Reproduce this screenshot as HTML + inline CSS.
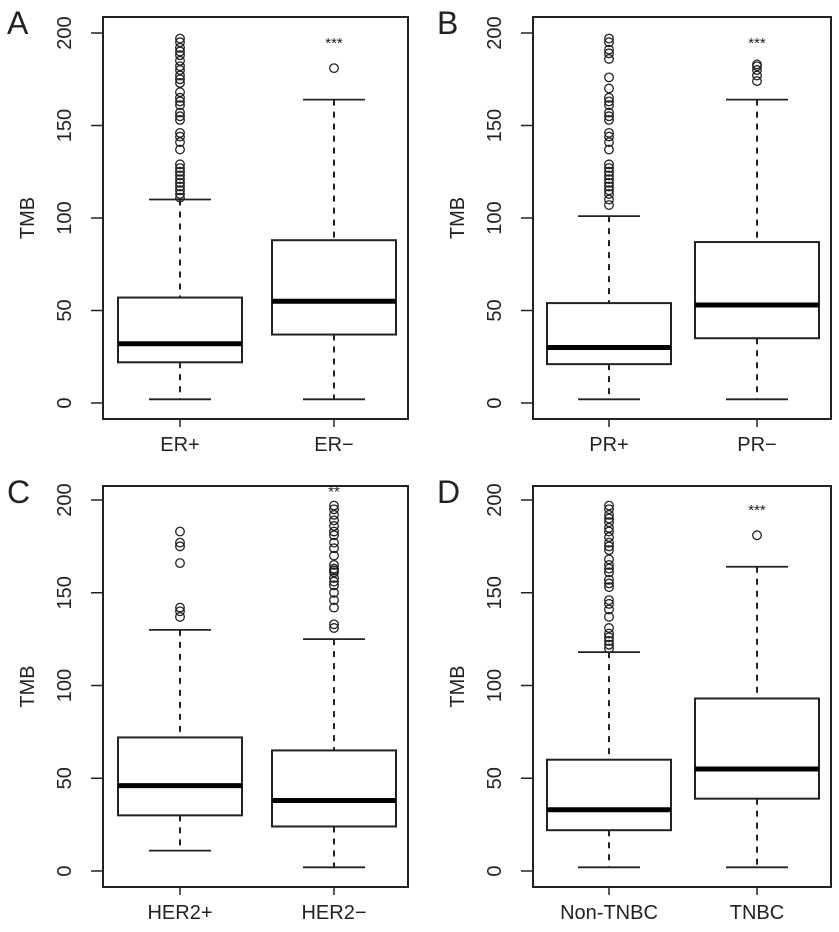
<!DOCTYPE html>
<html><head><meta charset="utf-8"><style>
html,body{margin:0;padding:0;background:#fff}
svg{display:block}
text{font-family:"Liberation Sans",Arial,sans-serif;fill:#222}
</style></head><body>
<svg id="chart" width="839" height="932" viewBox="0 0 839 932" xmlns="http://www.w3.org/2000/svg"></svg>
<script>
const panelLetters=["A","B","C","D"];
const groupLabels=[["ER+","ER\u2212"],["PR+","PR\u2212"],["HER2+","HER2\u2212"],["Non-TNBC","TNBC"]];
const lowWhisker=[[2,2],[2,2],[11,2],[2,2]];
const q1Values=[[22,37],[21,35],[30,24],[22,39]];
const medianValues=[[32,55],[30,53],[46,38],[33,55]];
const q3Values=[[57,88],[54,87],[72,65],[60,93]];
const highWhisker=[[110,164],[101,164],[130,125],[118,164]];
const outlierValues=[
 [[111,113,115,117,119,121,123,125,127,129,137,141,144,146,153,155,157,161,163,165,168,173,175,177,180,182,185,188,190,192,195,197],[181]],
 [[107,110,113,115,117,119,121,123,125,127,129,137,141,144,146,153,155,157,161,163,165,170,176,186,189,191,195,197],[174,177,180,182,183]],
 [[137,140,142,166,175,177,183],[131,133,142,146,150,154,156,158,161,162,163,165,170,174,177,181,183,186,189,192,195,197]],
 [[120,122,124,126,128,131,137,141,144,146,153,155,157,161,163,165,168,173,175,177,180,183,185,188,190,192,195,197],[181]]
];
const significance=[["","***"],["","***"],["","**"],["","***"]];
const significanceLevel=[[0,192],[0,192],[0,202],[0,192]];
const yTicks=[0,50,100,150,200];
const yTickLabels=["0","50","100","150","200"];

const svg=document.getElementById('chart');
const NS="http://www.w3.org/2000/svg";
function mk(tag,attrs,parent){const e=document.createElementNS(NS,tag);for(const k in attrs)e.setAttribute(k,attrs[k]);(parent||svg).appendChild(e);return e;}
const panels=[
 {fx0:103,fx1:408,fy0:17,fy1:419,y200:33,y0:403,cx:[180,334]},
 {fx0:533,fx1:831,fy0:17,fy1:419,y200:33,y0:403,cx:[609,757]},
 {fx0:103,fx1:408,fy0:486,fy1:887,y200:500,y0:871,cx:[180,334]},
 {fx0:533,fx1:831,fy0:486,fy1:887,y200:500,y0:871,cx:[609,757]}
];
panels.forEach((p,i)=>{
 const g=mk('g',{});
 
 
 const Y=v=>p.y0+(p.y200-p.y0)*v/200;
 const frame=mk('rect',{x:p.fx0,y:p.fy0,width:p.fx1-p.fx0,height:p.fy1-p.fy0,fill:'none',stroke:'#222','stroke-width':2},g);
 
 
 const lt=mk('text',{x:p.fx0-96,y:p.fy0+17,'font-size':32},g);
 lt.textContent=panelLetters[i];
 
 
 const yt=mk('text',{transform:`translate(${p.fx0-69},${(p.fy0+p.fy1)/2}) rotate(-90)`,'text-anchor':'middle','font-size':20},g);
 yt.textContent='TMB';
 
 
 yTicks.forEach((t,k)=>{
  const y=Y(t);
  const tl=mk('line',{x1:p.fx0-12,x2:p.fx0,y1:y,y2:y,stroke:'#222','stroke-width':1.5},g);
  
  
  const tx=mk('text',{transform:`translate(${p.fx0-32},${y}) rotate(-90)`,'text-anchor':'middle','font-size':20},g);
  tx.textContent=yTickLabels[k];
  
  
 });
 [0,1].forEach(j=>{
  const cx=p.cx[j];
  const bg=mk('g',{},g);
  
  
  mk('line',{x1:cx,x2:cx,y1:Y(highWhisker[i][j]),y2:Y(q3Values[i][j]),stroke:'#222','stroke-width':2,'stroke-dasharray':'6 6'},bg);
  mk('line',{x1:cx,x2:cx,y1:Y(q1Values[i][j]),y2:Y(lowWhisker[i][j]),stroke:'#222','stroke-width':2,'stroke-dasharray':'6 6'},bg);
  mk('line',{x1:cx-31,x2:cx+31,y1:Y(highWhisker[i][j]),y2:Y(highWhisker[i][j]),stroke:'#222','stroke-width':1.8},bg);
  mk('line',{x1:cx-31,x2:cx+31,y1:Y(lowWhisker[i][j]),y2:Y(lowWhisker[i][j]),stroke:'#222','stroke-width':1.8},bg);
  mk('rect',{x:cx-62,y:Y(q3Values[i][j]),width:124,height:Y(q1Values[i][j])-Y(q3Values[i][j]),fill:'#fff',stroke:'#222','stroke-width':2},bg);
  mk('line',{x1:cx-62,x2:cx+62,y1:Y(medianValues[i][j]),y2:Y(medianValues[i][j]),stroke:'#000','stroke-width':5},bg);
  outlierValues[i][j].forEach(v=>{
   const c=mk('circle',{cx:cx,cy:Y(v),r:4.3,fill:'none',stroke:'#222','stroke-width':1.3},bg);
   
   
  });
  if(significance[i][j]){
   const s=mk('text',{x:cx,y:Y(significanceLevel[i][j]),'text-anchor':'middle','font-size':15},bg);
   s.textContent=significance[i][j];
   
   
  }
  const xt=mk('line',{x1:cx,x2:cx,y1:p.fy1,y2:p.fy1+8,stroke:'#222','stroke-width':1.5},g);
  
  
  const xl=mk('text',{x:cx,y:p.fy1+32,'text-anchor':'middle','font-size':20},g);
  xl.textContent=groupLabels[i][j];
  
  
 });
});
</script>
</body></html>
